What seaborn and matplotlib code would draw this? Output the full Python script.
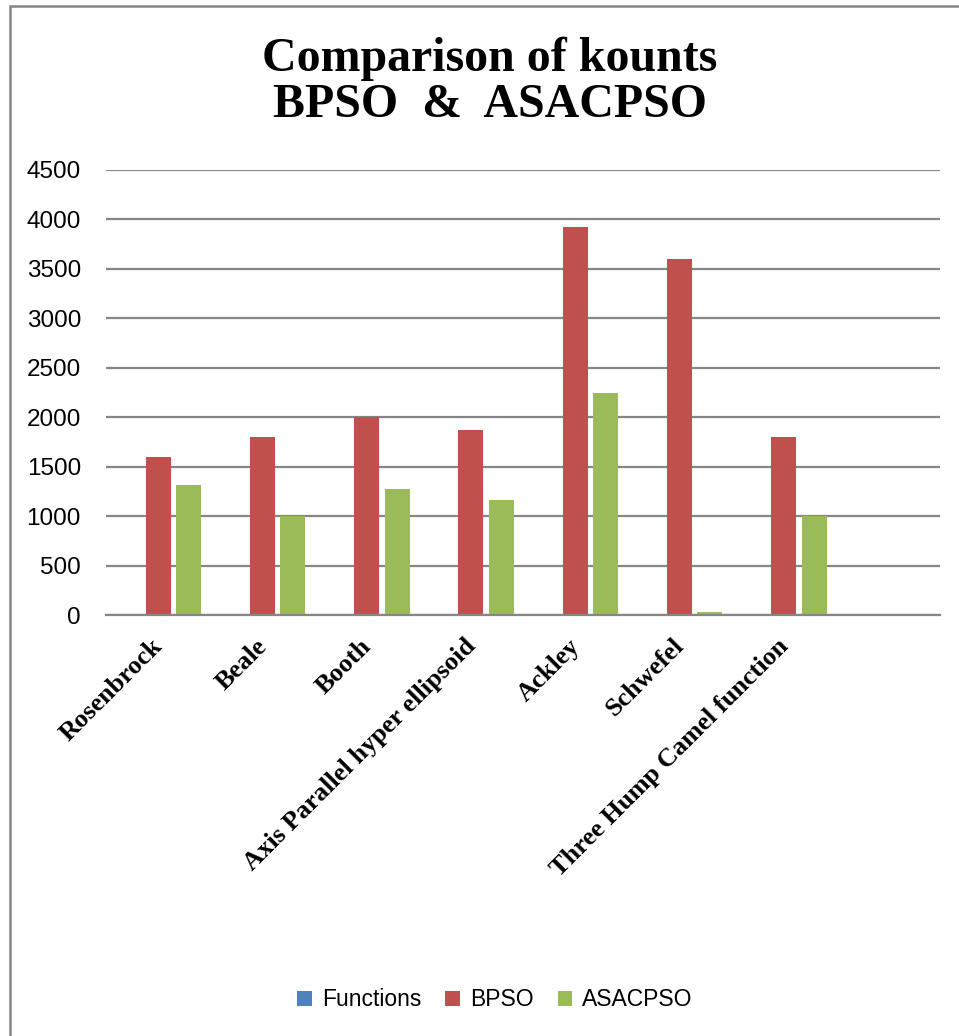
import matplotlib
matplotlib.use("Agg")
import matplotlib.pyplot as plt
import matplotlib.transforms as mtransforms
import seaborn as sns
import pandas as pd
from matplotlib.patches import Rectangle

categories = ["Rosenbrock", "Beale", "Booth", "Axis Parallel hyper ellipsoid",
              "Ackley", "Schwefel", "Three Hump Camel function"]
functions_vals = [0, 0, 0, 0, 0, 0, 0]
bpso_vals = [1595, 1800, 2000, 1875, 3920, 3600, 1800]
asacpso_vals = [1315, 1000, 1275, 1160, 2240, 30, 1000]
series_names = ["Functions", "BPSO", "ASACPSO"]
colors = ["#4F81BD", "#C0504D", "#9BBB59"]
yticks = [0, 500, 1000, 1500, 2000, 2500, 3000, 3500, 4000, 4500]

rows = []
for name, vals in zip(series_names, [functions_vals, bpso_vals, asacpso_vals]):
    for c, v in zip(categories, vals):
        rows.append({"Function": c, "Series": name, "Value": v})
df = pd.DataFrame(rows)

sns.set_theme(style="white")
plt.rcParams["font.family"] = ["Liberation Sans", "DejaVu Sans"]
plt.rcParams["text.color"] = "black"

fig = plt.figure(figsize=(9.59, 10.36), dpi=100)
ax = fig.add_axes([106/959, 1-615/1036, (940-106)/959, (615-170)/1036])

sns.barplot(data=df, x="Function", y="Value", hue="Series", order=categories,
            hue_order=series_names, palette=colors, width=0.88, gap=0.18,
            saturation=1, linewidth=0, errorbar=None, ax=ax, legend=True)

ax.set_xlim(-0.5, len(categories) + 0.5)
ax.set_ylim(0, 4500)
ax.set_yticks(yticks)
ax.set_yticklabels([str(t) for t in yticks], fontsize=17.5, color="black")
ax.yaxis.grid(True, color="#868686", linewidth=1.6)
ax.set_axisbelow(True)
for s in ["left", "right", "top"]:
    ax.spines[s].set_visible(False)
ax.spines["bottom"].set_color("#868686")
ax.spines["bottom"].set_linewidth(1.6)
ax.tick_params(axis="y", length=0, pad=18)
ax.tick_params(axis="x", length=0, pad=14)
ax.set_xlabel("")
ax.set_ylabel("")
ax.set_xticks(range(len(categories)))
ax.set_xticklabels(categories, rotation=45, ha="right", rotation_mode="anchor",
                   fontsize=19, fontweight="bold", family="Liberation Serif",
                   color="black")
shift = mtransforms.ScaledTranslation(-7/100, 0, fig.dpi_scale_trans)
for lbl in ax.get_xticklabels():
    lbl.set_transform(lbl.get_transform() + shift)

handles, labels = ax.get_legend_handles_labels()
ax.legend_.remove()
fig.legend(handles, labels, loc="center", bbox_to_anchor=(495/959, 1-1000/1036),
           ncol=3, frameon=False, fontsize=16.5, handlelength=0.62,
           handleheight=0.62, handletextpad=0.45, columnspacing=1.05,
           labelcolor="black")

fig.text(490/959, 1-82/1036, "Comparison of kounts\nBPSO  &  ASACPSO",
         ha="center", va="center", fontsize=34.5, fontweight="bold",
         family="Liberation Serif", linespacing=1.05, color="black")

fig.patches.append(Rectangle((10/959, -0.05), 1.2, 1-6/1036+0.05,
                             transform=fig.transFigure, fill=False,
                             edgecolor="#868686", linewidth=1.8))

fig.savefig("out.png", dpi=100)
